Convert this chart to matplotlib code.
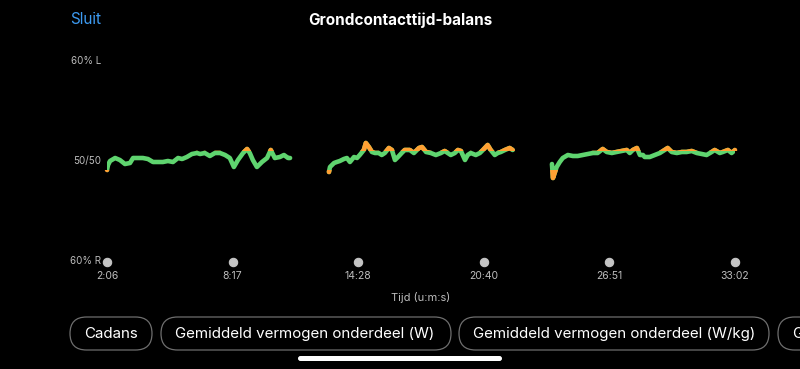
import numpy as np
import matplotlib
matplotlib.use("Agg")
import matplotlib.pyplot as plt
from matplotlib.patches import Rectangle, FancyBboxPatch

plt.rcParams['font.family'] = ['Inter', 'DejaVu Sans']

# ground contact time balance, % deviation from 50/50 (positive = left)
seg1_t = [126, 129, 135, 150, 164, 179, 194, 203, 218, 232, 247, 262, 277, 291, 306,
          321, 336, 348, 362, 377, 392, 401, 415, 430, 445, 460, 475, 489, 501, 513,
          528, 540, 548, 557, 569, 584, 599, 610, 622, 637, 649, 661, 667]
seg1_v = [-1.0, -0.5, -0.1, 0.2, 0.0, -0.4, -0.3, 0.2, 0.2, 0.2, 0.1, -0.2, -0.2, -0.2, -0.1,
          -0.2, 0.2, 0.1, 0.3, 0.6, 0.7, 0.6, 0.7, 0.4, 0.7, 0.7, 0.5, 0.2, -0.7, 0.0,
          0.7, 1.1, 0.7, 0.0, -0.7, -0.2, 0.2, 1.0, 0.2, 0.3, 0.5, 0.2, 0.2]

seg2_t = [782, 785, 797, 805, 814, 826, 835, 844, 856, 865, 873, 885, 891, 900, 909,
          918, 929, 938, 947, 959, 968, 977, 986, 997, 1006, 1021, 1033, 1048, 1057, 1069,
          1083, 1098, 1113, 1124, 1133, 1142, 1154, 1163, 1172, 1184, 1192, 1201, 1216, 1228,
          1237, 1251, 1260, 1272, 1281, 1290, 1302, 1316, 1325]
seg2_v = [-1.2, -0.7, -0.3, -0.2, -0.1, 0.1, 0.2, -0.2, 0.3, 0.2, 0.5, 1.0, 1.7, 1.3, 0.8,
          0.7, 0.7, 0.5, 0.7, 1.2, 1.0, 0.0, 0.3, 0.7, 1.0, 1.0, 0.7, 1.2, 1.3, 0.8,
          0.7, 0.5, 0.7, 0.9, 0.7, 0.5, 0.7, 1.0, 0.9, 0.0, 0.5, 0.7, 0.5, 0.7,
          1.0, 1.5, 1.0, 0.5, 0.7, 0.8, 1.0, 1.2, 1.0]

seg3_t = [1441, 1444, 1449, 1455, 1464, 1473, 1488, 1503, 1517, 1532, 1547, 1562, 1576, 1591,
          1603, 1618, 1632, 1647, 1662, 1671, 1680, 1692, 1701, 1710, 1715, 1730, 1745, 1760,
          1774, 1783, 1795, 1810, 1825, 1839, 1854, 1869, 1884, 1898, 1913, 1922, 1937, 1946,
          1961, 1972, 1982]
seg3_v = [-0.4, -1.8, -1.3, -0.7, -0.2, 0.2, 0.5, 0.4, 0.4, 0.5, 0.6, 0.7, 0.7, 1.1,
          0.8, 0.7, 0.8, 0.9, 1.0, 0.7, 1.0, 1.2, 0.5, 0.5, 0.3, 0.3, 0.5, 0.7,
          1.0, 1.2, 0.8, 0.7, 0.8, 0.8, 0.9, 0.7, 0.6, 0.5, 0.8, 1.0, 0.7, 0.8,
          1.0, 0.7, 1.0]

tick_secs = [126, 497, 868, 1240, 1611, 1982]
tick_labels = ['2:06', '8:17', '14:28', '20:40', '26:51', '33:02']
y_ticks = [10, 0, -10]
y_labels = ['60% L', '50/50', '60% R']
threshold = 0.95

buttons = ['Cadans', 'Gemiddeld vermogen onderdeel (W)',
           'Gemiddeld vermogen onderdeel (W/kg)', 'Grondcontacttijd']

GREEN = '#5fd46f'
ORANGE = '#ffa033'
GREY = '#c4c4c4'

W, H = 800, 369
fig = plt.figure(figsize=(8, 3.69), dpi=100, facecolor='black')

# screen overlay in pixel units for the app chrome
ui = fig.add_axes([0, 0, 1, 1])
ui.set_xlim(0, W)
ui.set_ylim(H, 0)
ui.axis('off')
ui.set_facecolor('none')

ax = fig.add_axes([107 / W, (H - 262) / H, (735 - 107) / W, (262 - 60) / H])
ax.set_facecolor('none')
ax.set_xlim(126, 1982)
ax.set_ylim(-10.2, 10)
for s in ax.spines.values():
    s.set_visible(False)

for t, v in [(seg1_t, seg1_v), (seg2_t, seg2_v), (seg3_t, seg3_v)]:
    ax.plot(t, v, color=GREEN, lw=3.3, solid_capstyle='round',
            solid_joinstyle='round', zorder=3)
    for lo, hi in [(threshold, 20), (-20, -threshold)]:
        ln, = ax.plot(t, v, color=ORANGE, lw=3.3, solid_capstyle='round',
                      solid_joinstyle='round', zorder=4)
        clip = Rectangle((0, lo), 3000, hi - lo, transform=ax.transData)
        ln.set_clip_path(clip)

ax.set_yticks(y_ticks, y_labels)
ax.tick_params(axis='y', length=0, pad=4.3, labelcolor='#bdbdbd', labelsize=7)
ax.set_xticks(tick_secs, tick_labels)
ax.tick_params(axis='x', length=0, pad=6.6, labelcolor='#bdbdbd', labelsize=7.5)
for tk in ax.xaxis.get_major_ticks():
    tk.tick1line.set_marker('o')
    tk.tick1line.set_markersize(6)
    tk.tick1line.set_markerfacecolor(GREY)
    tk.tick1line.set_markeredgecolor(GREY)
    tk.tick1line.set_clip_on(False)
ax.set_xlabel('Tijd (u:m:s)', color='#bdbdbd', fontsize=8, labelpad=8)

ui.text(400, 20, 'Grondcontacttijd-balans', color='white',
        fontsize=11, fontweight='bold', ha='center', va='center')
ui.text(70, 20, 'Sluit', color='#3d9bf2', fontsize=11, ha='left', va='center')

# chip buttons
box_x = [(70, 152), (161, 451), (459, 769), (778, 900)]
for label, (x0, x1) in zip(buttons, box_x):
    ui.add_patch(FancyBboxPatch((x0, 317), x1 - x0, 33,
                                boxstyle='round,pad=0,rounding_size=16.5',
                                facecolor='black', edgecolor='#6e6e6e', lw=0.9))
    ui.text(x0 + 14, 334, label, color='white', fontsize=10.9,
            ha='left', va='center')

ui.add_patch(FancyBboxPatch((298, 356), 204, 5,
                            boxstyle='round,pad=0,rounding_size=2.5',
                            facecolor='white', edgecolor='none'))

fig.savefig('out.png', dpi=100, facecolor='black')
